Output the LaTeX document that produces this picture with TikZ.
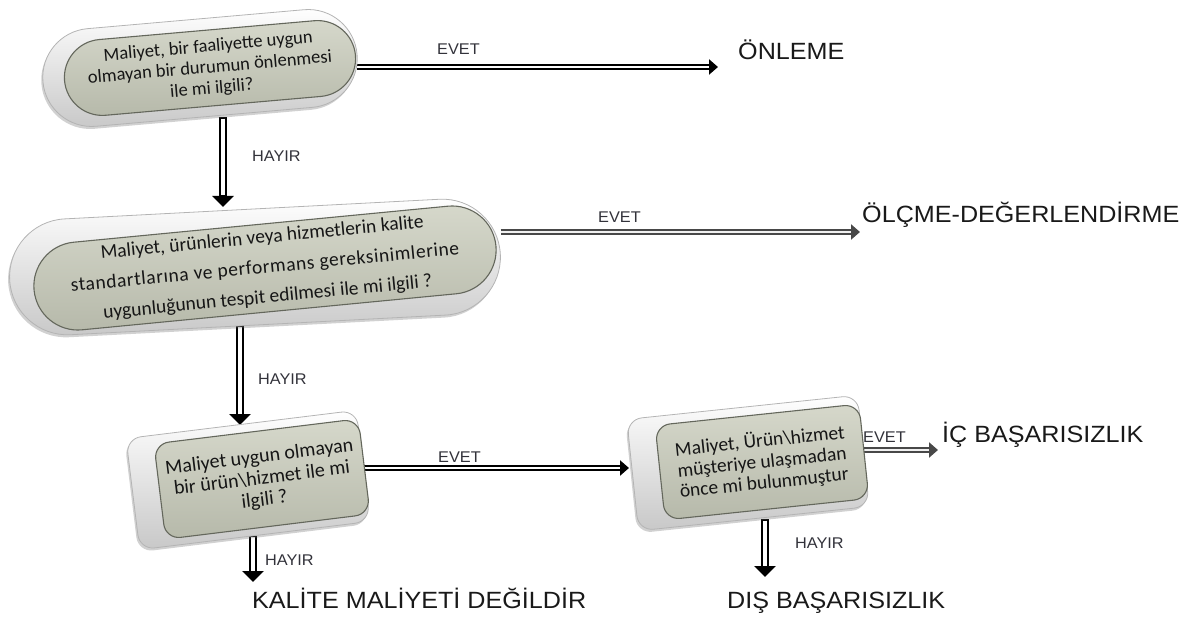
\documentclass[tikz,border=0pt]{standalone}
\usepackage{fontspec}
\setmainfont{Liberation Sans}
\newfontfamily\boxfont{Carlito}
\newfontfamily\labelfont[FakeStretch=1.05]{Liberation Sans}
\newfontfamily\bigfont[FakeStretch=1.07]{Liberation Sans}
\usetikzlibrary{arrows.meta,shapes.misc,shadows,backgrounds}

\definecolor{facetop}{RGB}{214,216,203}
\definecolor{facebot}{RGB}{182,185,170}
\definecolor{faceline}{RGB}{100,103,92}
\definecolor{slabshade}{RGB}{200,200,200}
\definecolor{slabline}{RGB}{180,180,180}
\definecolor{boxtext}{RGB}{22,22,22}
\definecolor{labeltext}{RGB}{50,50,58}
\definecolor{arrowgray}{RGB}{72,72,72}

\tikzset{
  slab/.style={top color=white, bottom color=slabshade, draw=slabline, line width=0.8pt,
    drop shadow={opacity=0.3, shadow xshift=-1.5pt, shadow yshift=-2.5pt, fill=black!60}},
  face/.style={top color=facetop, bottom color=facebot, draw=faceline, line width=1.1pt,
    text=boxtext, align=center, inner sep=0pt},
  pill/.style={rounded rectangle},
  keycap/.style={rectangle, rounded corners=15pt},
  lbl/.style={font=\labelfont\fontsize{15.5}{18}\selectfont, text=labeltext, inner sep=0pt, anchor=base west},
  outcome/.style={font=\bigfont\fontsize{23.5}{28}\selectfont, text=black!90, inner sep=0pt, anchor=base west},
  hollowdown/.style={draw=black, line width=7.5pt, -{Triangle[width=21pt,length=11pt]},
    postaction={draw=white, line width=4pt, -, shorten <=1.5pt, shorten >=11.5pt}},
  blackline/.style={draw=black, line width=6.5pt, -{Triangle[width=15pt,length=9pt]},
    postaction={draw=white, line width=1.8pt, -, shorten >=9.5pt}},
  grayline/.style={draw=arrowgray, line width=6.5pt, -{Triangle[width=15pt,length=9pt]},
    postaction={draw=white!88!gray, line width=2pt, -, shorten >=9.5pt}}
}

\begin{document}
\begin{tikzpicture}[x=1pt, y=-1pt]
\useasboundingbox (0,0) rectangle (1201,617);

% question 1
\node[slab, pill, minimum width=322pt, minimum height=98pt, rotate=5] (b1base) at (200,68) {};
\node[face, pill, minimum width=292pt, minimum height=76pt, rotate=5,
      font=\boxfont\fontsize{18.5}{21}\selectfont] (b1) at (210,68)
  {Maliyet, bir faaliyette uygun\\olmayan bir durumun önlenmesi\\ile mi ilgili?};

% question 2
\node[slab, pill, minimum width=498pt, minimum height=116pt, rotate=3] (b2base) at (255,267) {};
\node[face, pill, minimum width=464pt, minimum height=88pt, rotate=5.5,
      font=\boxfont\fontsize{19.5}{30}\selectfont] (b2) at (265,268)
  {Maliyet, ürünlerin veya hizmetlerin kalite\\
   {\addfontfeature{LetterSpace=3}standartlarına ve performans gereksinimlerine}\\
   uygunluğunun tespit edilmesi ile mi ilgili ?};

% question 3
\node[slab, keycap, minimum width=232pt, minimum height=112pt, rotate=7] (b3base) at (248,480) {};
\node[face, keycap, minimum width=206pt, minimum height=96pt, rotate=7,
      font=\boxfont\fontsize{20}{21.5}\selectfont] (b3) at (262,479)
  {Maliyet uygun olmayan\\bir ürün\textbackslash hizmet ile mi\\ilgili ?};

% question 4
\node[slab, keycap, minimum width=232pt, minimum height=112pt, rotate=6] (b4base) at (748,463) {};
\node[face, keycap, minimum width=205pt, minimum height=95pt, rotate=6,
      font=\boxfont\fontsize{19.5}{21}\selectfont] (b4) at (762,462)
  {Maliyet, Ürün\textbackslash hizmet\\müşteriye ulaşmadan\\önce mi bulunmuştur};

% outcomes
\node[outcome] (onleme) at (738,60) {ÖNLEME};
\node[outcome] (olcme) at (862,223) {ÖLÇME-DEĞERLENDİRME};
\node[outcome] (ic) at (942,442) {İÇ BAŞARISIZLIK};
\node[outcome] (kalite) at (252,608) {KALİTE MALİYETİ DEĞİLDİR};
\node[outcome] (dis) at (727,608) {DIŞ BAŞARISIZLIK};

% answer labels
\node[lbl] (evet1) at (437,55) {EVET};
\node[lbl] (evet2) at (598,223) {EVET};
\node[lbl] (evet3) at (438,462) {EVET};
\node[lbl] (evet4) at (863,442) {EVET};
\node[lbl] (hayir1) at (252,162) {HAYIR};
\node[lbl] (hayir2) at (258,384) {HAYIR};
\node[lbl] (hayir3) at (265,565) {HAYIR};
\node[lbl] (hayir4) at (795,548) {HAYIR};

% arrow ends
\coordinate (a1) at (718,67);
\coordinate (a2) at (860,232);
\coordinate (a3) at (629,468);
\coordinate (a4) at (938,450);
\coordinate (v1) at (223,207);
\coordinate (v2) at (240,425);
\coordinate (v3) at (253,582);
\coordinate (v4) at (765,577);

\begin{scope}[on background layer]
  \draw[blackline] (b1base.east |- a1) -- (a1);
  \draw[grayline]  (b2base.east |- a2) -- (a2);
  \draw[blackline] (b3base.east |- a3) -- (a3);
  \draw[grayline]  (b4.east |- a4) -- (a4);
  \draw[hollowdown] (b1base.south -| v1) -- (v1);
  \draw[hollowdown] (b2base.south -| v2) -- (v2);
  \draw[hollowdown] (b3base.south -| v3) -- (v3);
  \draw[hollowdown] (b4base.south -| v4) -- (v4);
\end{scope}
\end{tikzpicture}
\end{document}
